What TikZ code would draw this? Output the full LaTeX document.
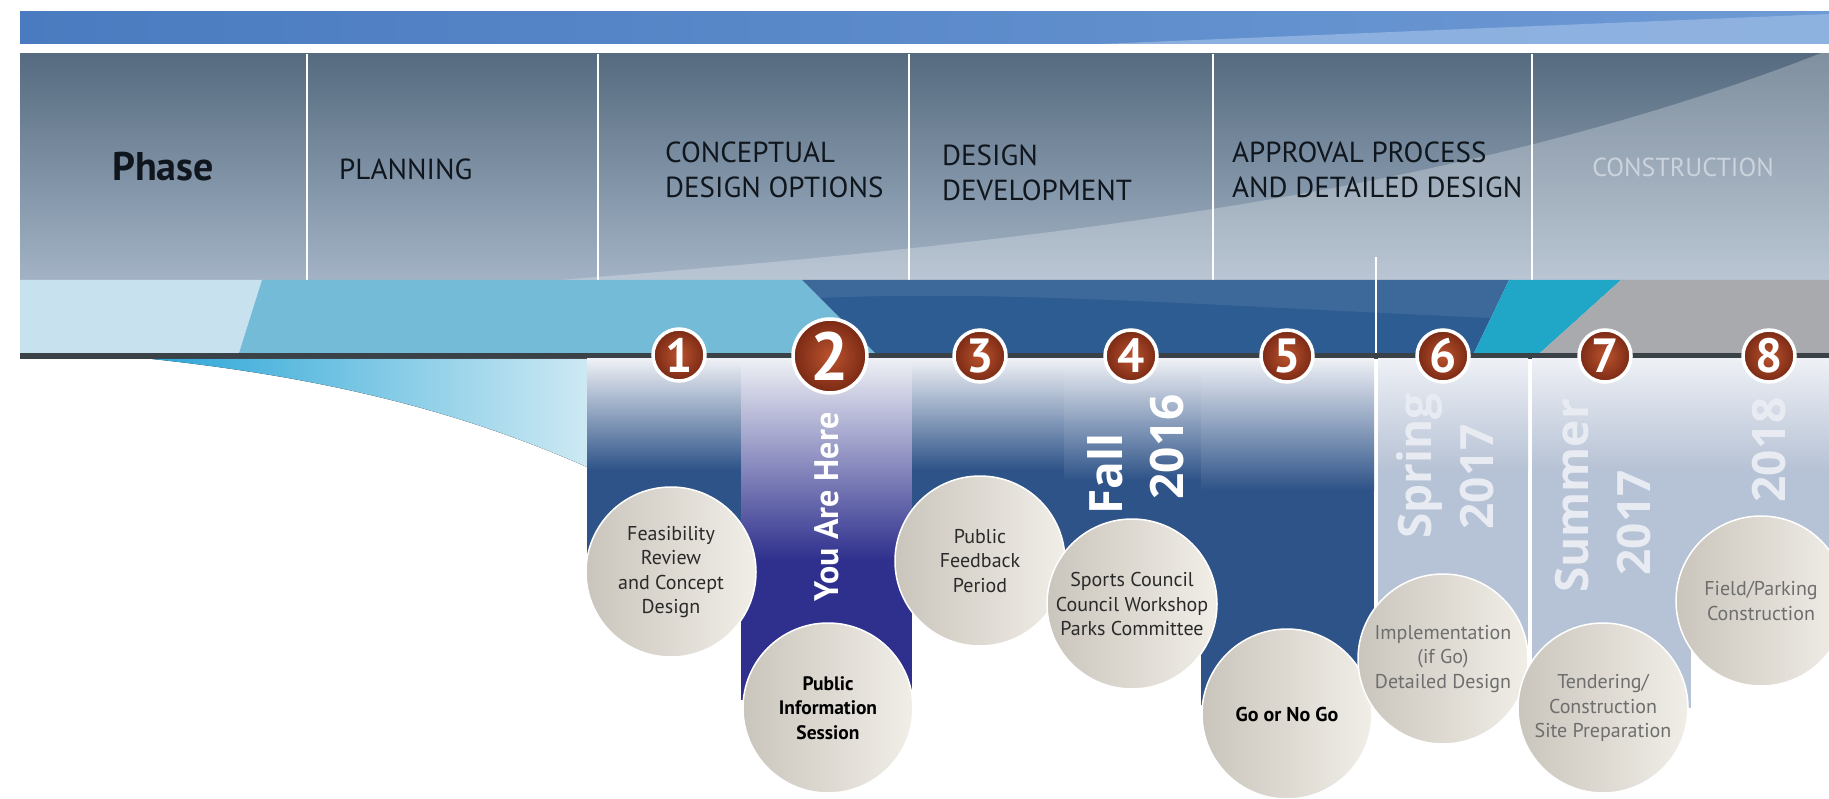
\documentclass[tikz,border=0pt]{standalone}
\usepackage{fontspec}
\setmainfont{PT Sans}
\newfontfamily\yearfont{Open Sans}
\definecolor{barA}{HTML}{4A7BC0}
\definecolor{barB}{HTML}{6E9AD5}
\definecolor{barC}{HTML}{9DBDE6}
\definecolor{hdtop}{HTML}{566B80}
\definecolor{hdbot}{HTML}{A3B3C5}
\definecolor{hdtext}{HTML}{10161D}
\definecolor{constr}{HTML}{CBD3DD}
\definecolor{bandlight}{HTML}{C8E1EE}
\definecolor{bandmid}{HTML}{73BBD7}
\definecolor{banddark}{HTML}{2D5C92}
\definecolor{bandteal}{HTML}{20A6C6}
\definecolor{bandgray}{HTML}{A8AAAD}
\definecolor{linegray}{HTML}{3B4247}
\definecolor{swooshA}{HTML}{2CA6D7}
\definecolor{swooshB}{HTML}{CDE9F3}
\definecolor{colwhite}{HTML}{EEF0F5}
\definecolor{coldark}{HTML}{2E5388}
\definecolor{colindigo}{HTML}{2F308D}
\definecolor{colpale}{HTML}{B6C2D5}
\definecolor{badgeA}{HTML}{BA532E}
\definecolor{badgeB}{HTML}{7A2914}
\definecolor{bubA}{HTML}{CAC5BC}
\definecolor{bubB}{HTML}{F1EEE8}
\definecolor{bubtext}{HTML}{2A2A2A}
\definecolor{bubgray}{HTML}{6E6E6E}
\definecolor{yrpale}{HTML}{E8ECF2}
\begin{document}
\begin{tikzpicture}[x=1pt,y=-1pt,
	hd/.style={text=hdtext,font=\fontsize{29}{35}\selectfont,inner sep=0,align=left,anchor=west},
	sep/.style={draw=white,line width=2},
	badge/.style={circle,draw=white,line width=3.5,inner color=badgeA,outer color=badgeB,text=white,font=\bfseries\fontsize{48}{48}\selectfont,inner sep=0,minimum size=52},
	bub/.style={circle,draw=white,line width=1.5,left color=bubA,right color=bubB,text=bubtext,font=\fontsize{20}{24.5}\selectfont,align=center,inner sep=0,minimum size=170},
	yr/.style={rotate=90,text=white,font=\yearfont\bfseries\fontsize{46}{46}\selectfont,inner sep=0},
	]
	\clip (0,0) rectangle (1829,799);
	\fill[white] (0,0) rectangle (1829,799);

	% top bar and header
	\fill[left color=barA,right color=barB] (20,12) rectangle (1829,44);
	\fill[barC,opacity=0.7] (1100,44) -- (1829,14) -- (1829,44) -- cycle;
	\fill[top color=hdtop,bottom color=hdbot] (20,54) rectangle (1829,280);
	\fill[white,opacity=0.25] (560,280) .. controls (1000,245) and (1450,200) .. (1829,50) -- (1829,280) -- cycle;
	\draw[sep] (307,54) -- (307,280);
	\draw[sep] (598,54) -- (598,280);
	\draw[sep] (909,54) -- (909,280);
	\draw[sep] (1213,54) -- (1213,280);
	\draw[sep] (1532,54) -- (1532,280);

	\node[hd,anchor=center,font=\bfseries\fontsize{40}{40}\selectfont] (phase) at (163,167) {Phase};
	\node[hd] (planning) at (339,169) {PLANNING};
	\node[hd] (concept) at (665,170) {CONCEPTUAL\\DESIGN OPTIONS};
	\node[hd] (devel) at (942,173) {DESIGN\\DEVELOPMENT};
	\node[hd] (approval) at (1232,170) {APPROVAL PROCESS\\AND DETAILED DESIGN};
	\node[hd,anchor=center,text=constr,font=\fontsize{26}{30}\selectfont] (construction) at (1683,167) {CONSTRUCTION};

	% band
	\fill[bandlight] (20,280) -- (262,280) -- (239,353) -- (20,353) -- cycle;
	\fill[bandmid] (262,280) -- (802,280) -- (875,353) -- (239,353) -- cycle;
	\fill[banddark] (802,280) -- (1509,280) -- (1474,353) -- (875,353) -- cycle;
	\fill[white,opacity=0.08] (802,280) -- (1509,280) -- (1490,318) .. controls (1200,305) and (1000,290) .. (820,298) -- cycle;
	\fill[bandteal] (1509,280) -- (1621,280) -- (1540,353) -- (1474,353) -- cycle;
	\fill[bandgray] (1621,280) -- (1829,280) -- (1829,353) -- (1540,353) -- cycle;
	\fill[linegray] (20,353) rectangle (1829,359);
	\draw[sep] (1376,257) -- (1376,353);
	\fill[left color=swooshA,right color=swooshB] (152,359) .. controls (350,380) and (480,420) .. (587,467) -- (587,359) -- cycle;

	% columns
	\fill[top color=colwhite,bottom color=coldark] (587,359) rectangle (741,470);
	\fill[coldark] (587,470) rectangle (741,572);
	\fill[top color=colwhite,bottom color=colindigo] (741,359) rectangle (912,560);
	\fill[colindigo] (741,560) rectangle (912,700);
	\fill[top color=colwhite,bottom color=coldark] (912,359) rectangle (1064,470);
	\fill[coldark] (912,470) rectangle (1064,561);
	\fill[top color=colwhite,bottom color=coldark] (1064,359) rectangle (1201,480);
	\fill[coldark] (1064,480) rectangle (1201,604);
	\fill[top color=colwhite,bottom color=coldark] (1201,359) rectangle (1374,490);
	\fill[coldark] (1201,490) rectangle (1374,705);
	\fill[top color=colwhite,bottom color=colpale] (1378,359) rectangle (1528,470);
	\fill[colpale] (1378,470) rectangle (1528,659);
	\fill[top color=colwhite,bottom color=colpale] (1532,359) rectangle (1691,470);
	\fill[colpale] (1532,470) rectangle (1691,708);
	\fill[top color=colwhite,bottom color=colpale] (1691,359) rectangle (1829,470);
	\fill[colpale] (1691,470) rectangle (1829,601);

	\node[yr,font=\bfseries\fontsize{34}{34}\selectfont] (here) at (827,507) {You Are Here};
	\node[yr] (fall) at (1105,474) {Fall};
	\node[yr] (y2016) at (1167,447) {2016};
	\node[yr,text=yrpale] (spring) at (1420,466) {Spring};
	\node[yr,text=yrpale] (y2017a) at (1477,477) {2017};
	\node[yr,text=yrpale] (summer) at (1572,496) {Summer};
	\node[yr,text=yrpale] (y2017b) at (1634,523) {2017};
	\node[yr,text=yrpale] (y2018) at (1769,450) {2018};

	% bubbles
	\node[bub] (feas) at (671,572) {Feasibility\\Review\\and Concept\\Design};
	\node[bub,text=black,font=\bfseries\fontsize{19.5}{24.5}\selectfont] (info) at (828,708) {Public\\Information\\Session};
	\node[bub] (feed) at (980,561) {Public\\Feedback\\Period};
	\node[bub] (sports) at (1132,604) {Sports Council\\Council Workshop\\Parks Committee};
	\node[bub,text=black,font=\bfseries\fontsize{20}{24.5}\selectfont] (gonogo) at (1287,714) {Go or No Go};
	\node[bub,text=bubgray] (impl) at (1443,659) {Implementation\\(if Go)\\Detailed Design};
	\node[bub,text=bubgray] (tender) at (1603,708) {Tendering/\\Construction\\Site Preparation};
	\node[bub,text=bubgray] (field) at (1761,601) {Field/Parking\\Construction};

	% numbers
	\node[badge] (n1) at (679,355) {1};
	\node[badge,minimum size=74,font=\bfseries\fontsize{68}{68}\selectfont] (n2) at (830,356) {2};
	\node[badge] (n3) at (980,356) {3};
	\node[badge] (n4) at (1131,356) {4};
	\node[badge] (n5) at (1287,356) {5};
	\node[badge] (n6) at (1443,356) {6};
	\node[badge] (n7) at (1605,356) {7};
	\node[badge] (n8) at (1769,356) {8};
\end{tikzpicture}
\end{document}
